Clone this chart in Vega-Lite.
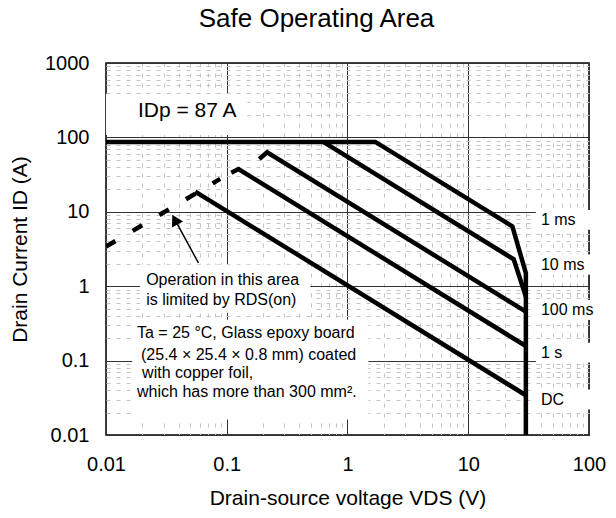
{
  "$schema": "https://vega.github.io/schema/vega-lite/v6.json",
  "width": 483,
  "height": 372,
  "autosize": {"type": "none"},
  "padding": {"left": 106, "top": 63, "right": 27, "bottom": 83},
  "background": "white",
  "title": {"text": "Safe Operating Area", "fontSize": 26, "font": "Liberation Sans", "fontWeight": "normal", "color": "#000", "anchor": "middle", "frame": "group", "dx": -31, "dy": 31, "baseline": "alphabetic", "offset": 31},
  "config": {"view": {"stroke": "#000", "strokeWidth": 1.5}, "font": "Liberation Sans"},
  "datasets": {
    "boxes": [
      {"x": 0.01, "x2": 0.148, "y": 108, "y2": 384},
      {"x": 0.0191, "x2": 0.493, "y": 0.44, "y2": 1.94},
      {"x": 0.01645, "x2": 1.49, "y": 0.01614, "y2": 0.355},
      {"x": 36.3, "x2": 120, "y": 5.73, "y2": 10.6},
      {"x": 36.3, "x2": 120, "y": 1.43, "y2": 2.66},
      {"x": 36.3, "x2": 120, "y": 0.352, "y2": 0.654},
      {"x": 36.3, "x2": 120, "y": 0.094, "y2": 0.174},
      {"x": 36.3, "x2": 120, "y": 0.022, "y2": 0.041}
    ],
    "lines": [
      {"series": "1 ms", "order": 0, "x": 0.01, "y": 87},
      {"series": "1 ms", "order": 1, "x": 1.7, "y": 87},
      {"series": "1 ms", "order": 2, "x": 23.2, "y": 6.36},
      {"series": "1 ms", "order": 3, "x": 30, "y": 1.5},
      {"series": "1 ms", "order": 4, "x": 30, "y": 0.01},
      {"series": "10 ms", "order": 0, "x": 0.63, "y": 87},
      {"series": "10 ms", "order": 1, "x": 23.8, "y": 2.3},
      {"series": "10 ms", "order": 2, "x": 30, "y": 0.72},
      {"series": "100 ms", "order": 0, "x": 0.186, "y": 51.4},
      {"series": "100 ms", "order": 1, "x": 0.216, "y": 63},
      {"series": "100 ms", "order": 2, "x": 30, "y": 0.455},
      {"series": "1 s", "order": 0, "x": 0.109, "y": 33.5},
      {"series": "1 s", "order": 1, "x": 0.125, "y": 37.5},
      {"series": "1 s", "order": 2, "x": 30, "y": 0.157},
      {"series": "DC", "order": 0, "x": 0.0548, "y": 18.7},
      {"series": "DC", "order": 1, "x": 30, "y": 0.0342}
    ],
    "rds": [
      {"order": 0, "x": 0.01, "y": 3.4},
      {"order": 1, "x": 0.0883, "y": 27.7}
    ],
    "arrow": [
      {"order": 0, "x": 0.0583, "y": 2.05},
      {"order": 1, "x": 0.0372, "y": 7.85}
    ],
    "head": [
      {"x": 0.0372, "y": 7.85}
    ],
    "bigtext": [
      {"x": 0.0184, "y": 227, "label": "IDp = 87 A"}
    ],
    "notes": [
      {"x": 0.0215, "y": 1.222, "label": "Operation in this area"},
      {"x": 0.0215, "y": 0.659, "label": "is limited by RDS(on)"},
      {"x": 0.01807, "y": 0.2377, "label": "Ta = 25 °C, Glass epoxy board"},
      {"x": 0.0195, "y": 0.1205, "label": "(25.4 × 25.4 × 0.8 mm) coated"},
      {"x": 0.0199, "y": 0.069, "label": "with copper foil,"},
      {"x": 0.01807, "y": 0.0384, "label": "which has more than 300 mm²."},
      {"x": 40, "y": 7.8, "label": "1 ms"},
      {"x": 40, "y": 1.95, "label": "10 ms"},
      {"x": 40, "y": 0.48, "label": "100 ms"},
      {"x": 40, "y": 0.128, "label": "1 s"},
      {"x": 40, "y": 0.030, "label": "DC"}
    ]
  },
  "encoding": {
    "x": {
      "field": "x", "type": "quantitative",
      "scale": {"type": "log", "domain": [0.01, 100]},
      "axis": {
        "values": [0.01,0.02,0.03,0.04,0.05,0.06,0.07,0.08,0.09,0.1,0.2,0.3,0.4,0.5,0.6,0.7,0.8,0.9,1,2,3,4,5,6,7,8,9,10,20,30,40,50,60,70,80,90,100],
        "labelExpr": "abs(log(datum.value)/LN10 - round(log(datum.value)/LN10)) < 0.001 ? format(datum.value, '~g') : ''",
        "labelFontSize": 20, "labelColor": "#000", "labelPadding": 19, "labelOverlap": false, "labelFlush": false,
        "ticks": false, "domain": false, "grid": true, "gridOpacity": 1, "gridWidth": 1,
        "gridColor": {"condition": {"test": "abs(log(datum.value)/LN10 - round(log(datum.value)/LN10)) < 0.001", "value": "#333333"}, "value": "#c4c4c4"},
        "gridDash": {"condition": {"test": "abs(log(datum.value)/LN10 - round(log(datum.value)/LN10)) < 0.001", "value": []}, "value": [4, 6]},
        "title": "Drain-source voltage VDS (V)", "titleFontSize": 21, "titleFontWeight": "normal", "titleColor": "#000",
        "titleX": 241.5, "titleY": 63, "titleBaseline": "middle", "titleAlign": "center"
      }
    },
    "y": {
      "field": "y", "type": "quantitative",
      "scale": {"type": "log", "domain": [0.01, 1000]},
      "axis": {
        "values": [0.01,0.02,0.03,0.04,0.05,0.06,0.07,0.08,0.09,0.1,0.2,0.3,0.4,0.5,0.6,0.7,0.8,0.9,1,2,3,4,5,6,7,8,9,10,20,30,40,50,60,70,80,90,100,200,300,400,500,600,700,800,900,1000],
        "labelExpr": "abs(log(datum.value)/LN10 - round(log(datum.value)/LN10)) < 0.001 ? format(datum.value, '~g') : ''",
        "labelFontSize": 20, "labelColor": "#000", "labelPadding": 17, "labelOverlap": false, "labelFlush": false,
        "ticks": false, "domain": false, "grid": true, "gridOpacity": 1, "gridWidth": 1,
        "gridColor": {"condition": {"test": "abs(log(datum.value)/LN10 - round(log(datum.value)/LN10)) < 0.001", "value": "#333333"}, "value": "#c4c4c4"},
        "gridDash": {"condition": {"test": "abs(log(datum.value)/LN10 - round(log(datum.value)/LN10)) < 0.001", "value": []}, "value": [4, 6]},
        "title": "Drain Current ID (A)", "titleFontSize": 21, "titleFontWeight": "normal", "titleColor": "#000",
        "titleX": -86, "titleY": 186, "titleBaseline": "middle", "titleAlign": "center", "titleAngle": -90
      }
    }
  },
  "layer": [
    {
      "data": {"name": "boxes"},
      "mark": {"type": "rect", "color": "white", "clip": false},
      "encoding": {"x2": {"field": "x2"}, "y2": {"field": "y2"}}
    },
    {
      "data": {"name": "lines"},
      "mark": {"type": "line", "color": "#000", "strokeWidth": 4.5, "strokeJoin": "miter", "clip": true},
      "encoding": {"detail": {"field": "series"}, "order": {"field": "order"}}
    },
    {
      "data": {"name": "rds"},
      "mark": {"type": "line", "color": "#000", "strokeWidth": 4.5, "strokeDash": [11, 20], "clip": true},
      "encoding": {"order": {"field": "order"}}
    },
    {
      "data": {"name": "arrow"},
      "mark": {"type": "line", "color": "#000", "strokeWidth": 1.5},
      "encoding": {"order": {"field": "order"}}
    },
    {
      "data": {"name": "head"},
      "mark": {"type": "point", "shape": "triangle-up", "filled": true, "color": "#000", "size": 160, "angle": 331.5, "opacity": 1}
    },
    {
      "data": {"name": "bigtext"},
      "mark": {"type": "text", "align": "left", "baseline": "middle", "fontSize": 21, "color": "#000"},
      "encoding": {"text": {"field": "label"}}
    },
    {
      "data": {"name": "notes"},
      "mark": {"type": "text", "align": "left", "baseline": "middle", "fontSize": 16, "color": "#000"},
      "encoding": {"text": {"field": "label"}}
    }
  ]
}
